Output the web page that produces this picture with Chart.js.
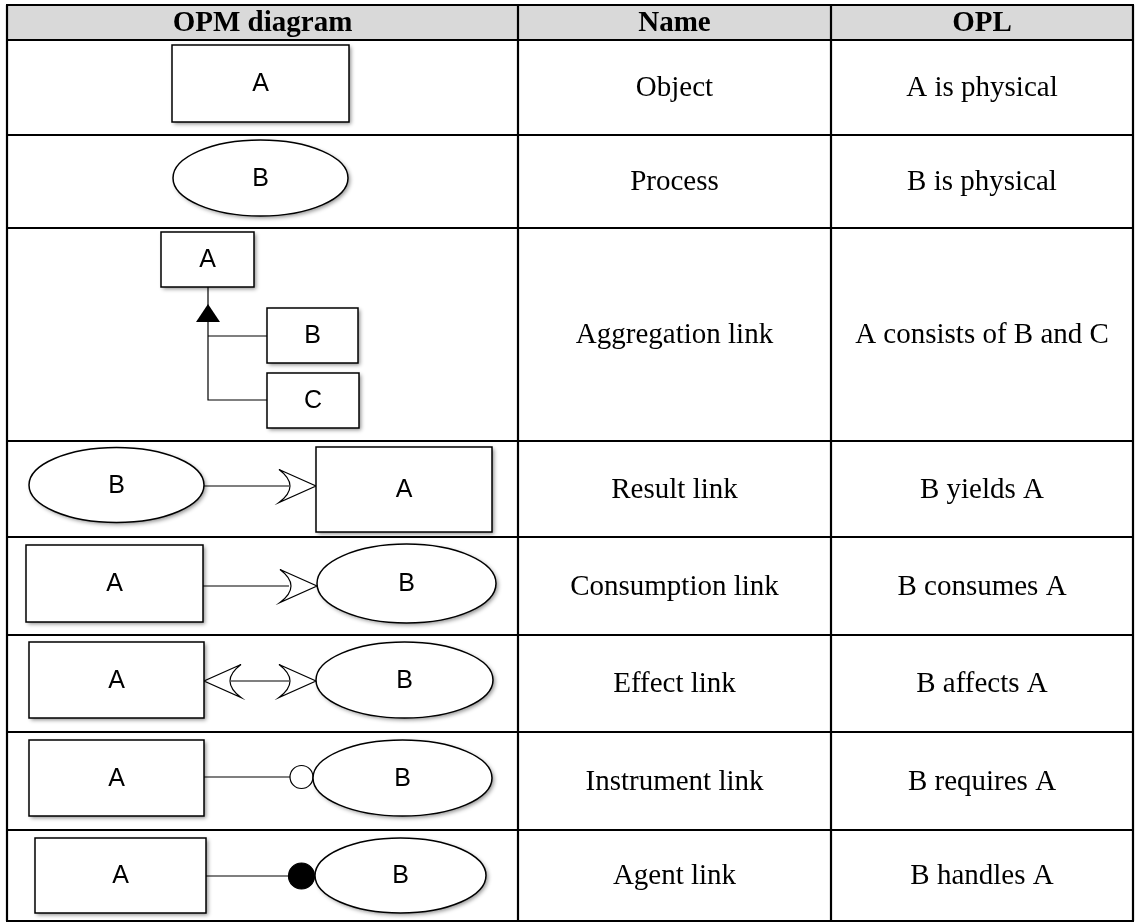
<!DOCTYPE html>
<html><head><meta charset="utf-8">
<script src="https://cdn.jsdelivr.net/npm/chart.js@4.4.1/dist/chart.umd.min.js"></script>
<style>html,body{margin:0;padding:0;background:#fff;overflow:hidden}</style>
</head><body>
<div style="width:1135px;height:922px"><canvas id="c" width="1135" height="922"></canvas></div>
<script>
// ---- table content ----
const headers = ["OPM diagram", "Name", "OPL"];
const names = ["Object", "Process", "Aggregation link", "Result link", "Consumption link", "Effect link", "Instrument link", "Agent link"];
const opl = ["A is physical", "B is physical", "A consists of B and C", "B yields A", "B consumes A", "B affects A", "B requires A", "B handles A"];

// ---- layout (data units = pixels of the reference) ----
const colEdges = [7, 518, 831, 1133];
const rowEdges = [5, 40, 135, 228, 441, 537, 635, 732, 830, 921];

// shapes per row of the OPM diagram column
const diagrams = [
  [{t:'rect', x0:172, y0:45, x1:349, y1:122, label:'A'}],
  [{t:'ell', cx:260.5, cy:178, rx:87.5, ry:38, label:'B'}],
  [{t:'line', pts:[[208,287],[208,400],[267,400]]},
   {t:'line', pts:[[208,336],[267,336]]},
   {t:'tri', x:208, y0:304, y1:322, hw:12},
   {t:'rect', x0:161, y0:232, x1:254, y1:287, label:'A'},
   {t:'rect', x0:267, y0:308, x1:358, y1:363, label:'B'},
   {t:'rect', x0:267, y0:373, x1:359, y1:428, label:'C'}],
  [{t:'line', pts:[[204,486],[289,486]]},
   {t:'fork', tip:316, y:486, dir:1},
   {t:'ell', cx:116.5, cy:485, rx:87.5, ry:37.5, label:'B'},
   {t:'rect', x0:316, y0:447, x1:492, y1:532, label:'A'}],
  [{t:'line', pts:[[203,586],[289,586]]},
   {t:'fork', tip:317, y:586, dir:1},
   {t:'rect', x0:26, y0:545, x1:203, y1:622, label:'A'},
   {t:'ell', cx:406.5, cy:583.5, rx:89.5, ry:39.5, label:'B'}],
  [{t:'line', pts:[[231,681],[289,681]]},
   {t:'fork', tip:316, y:681, dir:1},
   {t:'fork', tip:204, y:681, dir:-1},
   {t:'rect', x0:29, y0:642, x1:204, y1:718, label:'A'},
   {t:'ell', cx:404.5, cy:680, rx:88.5, ry:38, label:'B'}],
  [{t:'line', pts:[[204,777],[290,777]]},
   {t:'circ', cx:301.5, cy:777, r:11.5, fill:false},
   {t:'rect', x0:29, y0:740, x1:204, y1:816, label:'A'},
   {t:'ell', cx:402.5, cy:778, rx:89.5, ry:38, label:'B'}],
  [{t:'line', pts:[[206,876],[289,876]]},
   {t:'circ', cx:301.5, cy:876, r:13, fill:true},
   {t:'rect', x0:35, y0:838, x1:206, y1:913, label:'A'},
   {t:'ell', cx:400.5, cy:875.5, rx:85.5, ry:37.5, label:'B'}]
];

const SERIF = '"Liberation Serif","Times New Roman",serif';
const SANS = '"Liberation Sans",Arial,sans-serif';

const tablePlugin = {
  id: 'opmTable',
  beforeDraw(chart) {
    const c = chart.ctx;
    c.save(); c.fillStyle = '#fff'; c.fillRect(0, 0, chart.width, chart.height); c.restore();
  },
  afterDraw(chart) {
    const c = chart.ctx;
    const X = v => chart.scales.x.getPixelForValue(v);
    const Y = v => chart.scales.y.getPixelForValue(v);
    c.save();
    // header background
    c.fillStyle = '#d9d9d9';
    c.fillRect(X(colEdges[0]), Y(rowEdges[0]), X(colEdges[3]) - X(colEdges[0]), Y(rowEdges[1]) - Y(rowEdges[0]));

    // diagrams
    const shadow = on => {
      if (on) { c.shadowColor = 'rgba(0,0,0,0.45)'; c.shadowBlur = 4; c.shadowOffsetX = 2; c.shadowOffsetY = 2; }
      else { c.shadowColor = 'transparent'; c.shadowBlur = 0; c.shadowOffsetX = 0; c.shadowOffsetY = 0; }
    };
    const label = (txt, x, y) => {
      c.fillStyle = '#000'; c.font = '25px ' + SANS; c.textAlign = 'center'; c.textBaseline = 'middle';
      c.fillText(txt, X(x), Y(y) + 1);
    };
    diagrams.forEach(row => row.forEach(s => {
      c.strokeStyle = '#000';
      if (s.t === 'line') {
        shadow(false); c.lineWidth = 1.2;
        c.beginPath(); s.pts.forEach((p, i) => i ? c.lineTo(X(p[0]), Y(p[1])) : c.moveTo(X(p[0]), Y(p[1]))); c.stroke();
      } else if (s.t === 'rect') {
        const x = X(s.x0), y = Y(s.y0), w = X(s.x1) - x, h = Y(s.y1) - y;
        shadow(true); c.fillStyle = '#fff'; c.fillRect(x, y, w, h);
        shadow(false); c.lineWidth = 1.5; c.strokeRect(x, y, w, h);
        label(s.label, (s.x0 + s.x1) / 2, (s.y0 + s.y1) / 2);
      } else if (s.t === 'ell') {
        c.beginPath(); c.ellipse(X(s.cx), Y(s.cy), X(s.cx + s.rx) - X(s.cx), Y(s.cy + s.ry) - Y(s.cy), 0, 0, Math.PI * 2);
        shadow(true); c.fillStyle = '#fff'; c.fill();
        shadow(false); c.lineWidth = 1.5; c.stroke();
        label(s.label, s.cx, s.cy);
      } else if (s.t === 'tri') {
        shadow(false); c.fillStyle = '#000';
        c.beginPath(); c.moveTo(X(s.x), Y(s.y0)); c.lineTo(X(s.x + s.hw), Y(s.y1)); c.lineTo(X(s.x - s.hw), Y(s.y1)); c.closePath(); c.fill();
      } else if (s.t === 'fork') {
        shadow(false); c.lineWidth = 1.2;
        const back = s.tip - 37 * s.dir, ctrl = back + 22 * s.dir;
        c.beginPath();
        c.moveTo(X(back), Y(s.y - 16.5)); c.lineTo(X(s.tip), Y(s.y)); c.lineTo(X(back), Y(s.y + 16.5));
        c.quadraticCurveTo(X(ctrl), Y(s.y), X(back), Y(s.y - 16.5));
        c.fillStyle = '#fff'; c.fill(); c.stroke();
      } else if (s.t === 'circ') {
        shadow(false); c.lineWidth = 1.2;
        c.beginPath(); c.arc(X(s.cx), Y(s.cy), X(s.cx + s.r) - X(s.cx), 0, Math.PI * 2);
        c.fillStyle = s.fill ? '#000' : '#fff'; c.fill(); c.stroke();
      }
    }));
    shadow(false);

    // texts
    c.fillStyle = '#000'; c.textAlign = 'center'; c.textBaseline = 'middle';
    c.font = 'bold 29px ' + SERIF;
    headers.forEach((h, i) => c.fillText(h, X((colEdges[i] + colEdges[i + 1]) / 2), Y((rowEdges[0] + rowEdges[1]) / 2) + 1));
    c.font = '29px ' + SERIF;
    names.forEach((n, i) => {
      const cy = Y((rowEdges[i + 1] + rowEdges[i + 2]) / 2) + 1;
      c.fillText(n, X((colEdges[1] + colEdges[2]) / 2), cy);
      c.fillText(opl[i], X((colEdges[2] + colEdges[3]) / 2), cy);
    });

    // grid lines
    c.strokeStyle = '#000'; c.lineWidth = 2.2;
    c.beginPath();
    rowEdges.forEach(r => { c.moveTo(X(colEdges[0]) - 1, Y(r)); c.lineTo(X(colEdges[3]) + 1, Y(r)); });
    colEdges.forEach(e => { c.moveTo(X(e), Y(rowEdges[0])); c.lineTo(X(e), Y(rowEdges[rowEdges.length - 1])); });
    c.stroke();
    c.restore();
  }
};

new Chart(document.getElementById('c'), {
  type: 'scatter',
  data: { datasets: [{ data: [], pointRadius: 0 }] },
  options: {
    responsive: false, animation: false, events: [],
    layout: { padding: 0 },
    plugins: { legend: { display: false }, tooltip: { enabled: false } },
    scales: {
      x: { type: 'linear', min: 0, max: 1135, display: false },
      y: { type: 'linear', min: 0, max: 922, reverse: true, display: false }
    }
  },
  plugins: [tablePlugin]
});
</script>
</body></html>
